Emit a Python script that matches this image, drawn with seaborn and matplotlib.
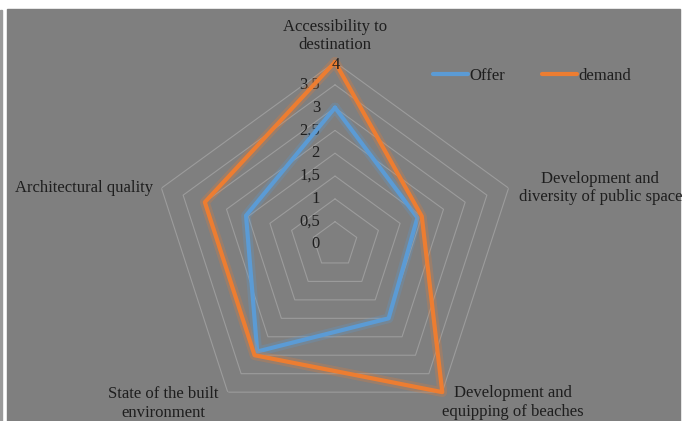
import numpy as np
import matplotlib
matplotlib.use("Agg")
import matplotlib.pyplot as plt
import matplotlib.patheffects as pe
from matplotlib.patches import Rectangle
from matplotlib.lines import Line2D
import seaborn as sns

categories = ["Accessibility to\ndestination",
              "Development and\ndiversity of public space",
              "Development and\nequipping of beaches",
              "State of the built\nenvironment",
              "Architectural quality"]
offer = [3, 1.9, 2, 2.9, 2.05]
demand = [4, 2, 4, 3, 3]
ticks = [0, 0.5, 1, 1.5, 2, 2.5, 3, 3.5, 4]
tick_labels = ["0", "0,5", "1", "1,5", "2", "2,5", "3", "3,5", "4"]
series_names = ["Offer", "demand"]
colors = ["#5b9bd5", "#ed7d31"]

sns.set_theme(style="white")
plt.rcParams["font.family"] = ["Liberation Serif", "DejaVu Serif"]
TXT = "#1e1e1e"

W, H = 685, 421
fig = plt.figure(figsize=(W / 100, H / 100), dpi=100, facecolor="white")
fig.patches.append(Rectangle((7 / W, 0), 673 / W, 412 / H, transform=fig.transFigure,
                             color="#7f7f7f", zorder=-5))
fig.patches.append(Rectangle((0, 0), 1.5 / W, 411 / H, transform=fig.transFigure,
                             color="#9a9a9a", zorder=-5))

cx, cy, R = 335, 244.5, 182.5
ax = fig.add_axes([(cx - R) / W, (H - cy - R) / H, 2 * R / W, 2 * R / H], projection="polar")
ax.set_facecolor("none")
ax.patch.set_alpha(0)
ax.set_theta_zero_location("N")
ax.set_theta_direction(-1)
ax.set_ylim(0, 4)
ax.grid(False)
ax.spines["polar"].set_visible(False)
ax.set_xticks([])
ax.set_yticks([])

n = len(categories)
angles = np.linspace(0, 2 * np.pi, n, endpoint=False)
ang_c = np.append(angles, angles[0])

# pentagon gridlines
for t in ticks[1:]:
    ax.plot(ang_c, [t] * (n + 1), color="#9c9c9c", lw=0.8, zorder=1)

# series
for name, vals, col in zip(series_names, [offer, demand], colors):
    v = np.append(vals, vals[0])
    sns.lineplot(x=ang_c, y=v, ax=ax, sort=False, color=col, lw=3.0, zorder=3,
                 estimator=None, legend=False)
    ln = ax.lines[-1]
    ln.set_clip_on(False)
    ln.set_path_effects([pe.Stroke(linewidth=7, foreground=col, alpha=0.25), pe.Normal()])

# radial tick labels
for t, lab in zip(ticks, tick_labels):
    if t == 4:
        ax.annotate(lab, xy=(0, t), xytext=(1, -3), textcoords="offset pixels",
                    ha="center", va="center", fontsize=12, color=TXT, zorder=5)
    else:
        ax.annotate(lab, xy=(0, t), xytext=(-15, 0), textcoords="offset pixels",
                    ha="right", va="center", fontsize=12, color=TXT, zorder=2)

# category labels
label_place = [((0, 9), "center", "bottom"),
               ((10, 0), "left", "center"),
               ((0, 7), "left", "top"),
               ((-9, 6), "right", "top"),
               ((-8, 0), "right", "center")]
for a, lab, (off, ha, va) in zip(angles, categories, label_place):
    ax.annotate(lab, xy=(a, 4), xytext=off, textcoords="offset pixels",
                ha=ha, va=va, multialignment="center", fontsize=12, color=TXT,
                annotation_clip=False, linespacing=1.2)

handles = [Line2D([0], [0], color=c, lw=3) for c in colors]
fig.legend(handles, series_names, loc="center left", bbox_to_anchor=(433 / W, 1 - 76 / H),
           ncol=2, frameon=False, fontsize=12, handlelength=2.1, handletextpad=0.1,
           columnspacing=2.2, borderpad=0, borderaxespad=0, labelcolor=TXT)

fig.savefig("out.png", dpi=100, facecolor="white")
